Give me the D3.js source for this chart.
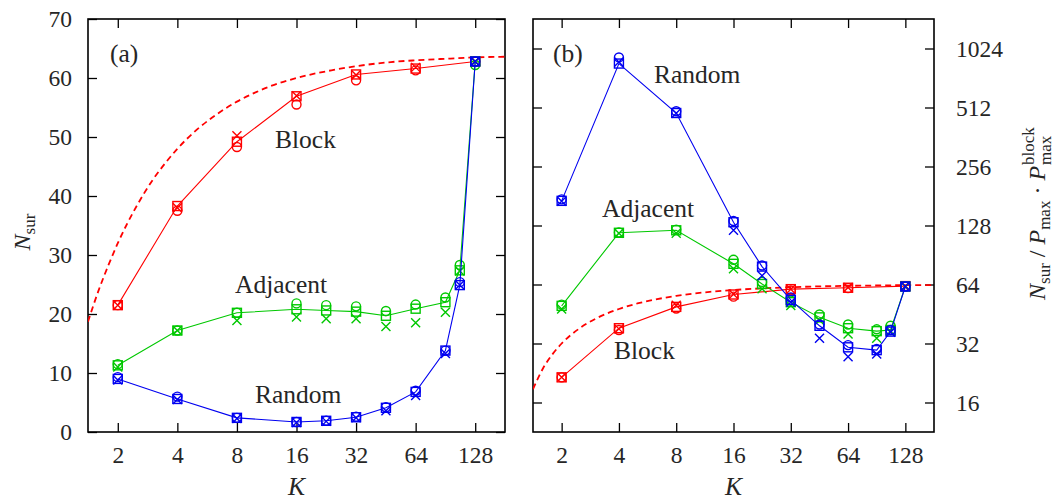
<!DOCTYPE html>
<html>
<head>
<meta charset="utf-8">
<script src="https://cdn.jsdelivr.net/npm/d3@7"></script>
<style>
  body { margin: 0; background: #fff; }
  svg text { font-family: "Liberation Serif", "DejaVu Serif", serif !important; fill: #262626; }
</style>
</head>
<body>
<script>
// DATA
const kBlock = [2, 4, 8, 16, 32, 64, 128];
const kAll = [2, 4, 8, 16, 22.6, 32, 45.3, 64, 90.5, 107, 128];

// panel (a): N_sur, three variants per scheme (square / circle / cross)
const blockSq  = [21.5, 38.3, 49.2, 56.9, 60.6, 61.6, 62.8];
const blockCi  = [21.5, 37.5, 48.3, 55.5, 59.6, 61.3, 62.8];
const blockX   = [21.5, 38.0, 50.2, 57.0, 60.5, 61.8, 62.8];

const adjSq    = [11.3, 17.2, 20.2, 20.8, 20.6, 20.4, 19.7, 20.9, 22.0, 27.4, 62.8];
const adjCi    = [11.5, 17.2, 20.2, 21.8, 21.5, 21.3, 20.5, 21.6, 22.8, 28.3, 62.2];
const adjX     = [11.0, 17.2, 18.9, 19.5, 19.2, 19.2, 17.9, 18.5, 20.3, 27.3, 62.8];

const randSq   = [9.0, 5.6, 2.4, 1.7, 1.9, 2.5, 4.1, 6.8, 13.8, 24.9, 62.8];
const randCi   = [9.3, 6.0, 2.4, 1.7, 1.9, 2.6, 4.2, 7.0, 13.8, 25.4, 62.8];
const randX    = [8.8, 5.5, 2.3, 1.6, 1.8, 2.4, 3.6, 6.2, 13.3, 24.9, 62.8];

// panel (b): N_sur / P_max * P_max^block
const adjSqB   = [49.8, 117.5, 121, 81.6, 64.4, 52, 43.5, 38.3, 37, 37.5, 62.5];
const adjCiB   = [50.5, 118, 122, 85.6, 66, 53, 45, 40, 37.8, 39.4, 62.5];
const adjXB    = [48, 117, 117, 77, 60.8, 50, 42, 35.8, 34, 37, 62.5];

const randSqB  = [171, 858, 480, 133, 79, 53.4, 39.4, 30.6, 29.6, 36.8, 62.5];
const randCiB  = [174, 922, 490, 135, 80, 55, 40, 31.4, 30, 37.5, 62.5];
const randXB   = [170, 875, 478, 121, 71, 52, 34, 27.4, 28.3, 36.5, 62.5];

// upper bound (dashed)
const kBound   = [1.414, 1.6, 1.8, 2, 2.5, 3, 3.5, 4, 5, 6, 8, 10, 12, 16, 24, 32, 48, 64, 96, 128, 181];
const bound    = [18.7, 24, 28.4, 32, 38.4, 42.7, 45.7, 48, 51.2, 53.3, 56, 57.6, 58.7, 60, 61.3, 62, 62.7, 63, 63.3, 63.5, 63.6];

const xTicks  = [2, 4, 8, 16, 32, 64, 128];
const yTicksA = [0, 10, 20, 30, 40, 50, 60, 70];
const yTicksB = [16, 32, 64, 128, 256, 512, 1024];

const RED = "#ff0000", GREEN = "#00c800", BLUE = "#0000f0";

// SVG
const svg = d3.select("body").append("svg")
  .attr("width", 1056).attr("height", 500);

const plotTop = 19, plotBottom = 432;
const xA = d3.scaleLog().base(2).domain([Math.SQRT2, 128 * Math.SQRT2]).range([88, 505]);
const yA = d3.scaleLinear().domain([0, 70]).range([plotBottom, plotTop]);
const xB = d3.scaleLog().base(2).domain([Math.SQRT2, 128 * Math.SQRT2]).range([533, 934]);
const yB = d3.scaleLog().base(2).domain([Math.pow(2, 3.5), Math.pow(2, 10.5)]).range([plotBottom, plotTop]);

const fs = "23.5px", fsNote = "25.5px";

function frame(x, y, yTicks, labelSide, id) {
  const [x0, x1] = x.range();
  const g = svg.append("g");

  g.append("g").attr("transform", `translate(0,${plotBottom})`)
    .call(d3.axisBottom(x).tickValues(xTicks).tickFormat(d3.format("d")).tickSizeInner(-9).tickSizeOuter(0).tickPadding(14))
    .call(a => a.select(".domain").remove())
    .call(a => a.selectAll("text").style("font-size", fs));
  g.append("g").attr("transform", `translate(0,${plotTop})`)
    .call(d3.axisTop(x).tickValues(xTicks).tickFormat("").tickSizeInner(-9).tickSizeOuter(0))
    .call(a => a.select(".domain").remove());

  const left = d3.axisLeft(y).tickValues(yTicks).tickSizeInner(-9).tickSizeOuter(0).tickPadding(16);
  const right = d3.axisRight(y).tickValues(yTicks).tickSizeInner(-9).tickSizeOuter(0).tickPadding(22);
  if (labelSide == "left") right.tickFormat(""); else left.tickFormat("");
  if (labelSide == "right") right.tickFormat(d3.format("d"));

  g.append("g").attr("transform", `translate(${x0},0)`).call(left)
    .call(a => a.select(".domain").remove())
    .call(a => a.selectAll("text").style("font-size", fs));
  g.append("g").attr("transform", `translate(${x1},0)`).call(right)
    .call(a => a.select(".domain").remove())
    .call(a => a.selectAll("text").style("font-size", fs));

  g.selectAll("g").attr("font-family", null);
  g.selectAll(".tick line").attr("stroke", "#000").attr("stroke-width", 1.3);
  g.selectAll(".tick text").attr("fill", "#262626");

  g.append("rect")
    .attr("x", x0).attr("y", plotTop).attr("width", x1 - x0).attr("height", plotBottom - plotTop)
    .attr("fill", "none").attr("stroke", "#000").attr("stroke-width", 1.6);

  svg.append("clipPath").attr("id", id)
    .append("rect").attr("x", x0).attr("y", plotTop).attr("width", x1 - x0).attr("height", plotBottom - plotTop);

  // K label
  svg.append("text")
    .attr("x", (x0 + x1) / 2).attr("y", 495)
    .attr("text-anchor", "middle")
    .style("font-size", fsNote).style("font-style", "italic")
    .text("K");
}

frame(xA, yA, yTicksA, "left", "clipA");
frame(xB, yB, yTicksB, "right", "clipB");

function series(x, y, ks, sq, ci, cr, color, clip) {
  const g = svg.append("g").attr("clip-path", `url(#${clip})`);
  const pts = ks.map((k, i) => ({ k: k, sq: sq[i], ci: ci[i], cr: cr[i] }));

  g.append("path").datum(pts)
    .attr("fill", "none").attr("stroke", color).attr("stroke-width", 1.1)
    .attr("d", d3.line().x(d => x(d.k)).y(d => y(d.sq)));

  g.selectAll("rect.sq").data(pts).join("rect")
    .attr("class", "sq")
    .attr("x", d => x(d.k) - 4.5).attr("y", d => y(d.sq) - 4.5)
    .attr("width", 9).attr("height", 9)
    .attr("fill", "none").attr("stroke", color).attr("stroke-width", 1.4);

  g.selectAll("circle").data(pts).join("circle")
    .attr("cx", d => x(d.k)).attr("cy", d => y(d.ci)).attr("r", 4.5)
    .attr("fill", "none").attr("stroke", color).attr("stroke-width", 1.4);

  g.selectAll("path.cr").data(pts).join("path")
    .attr("class", "cr")
    .attr("d", d => {
      const cx = x(d.k), cy = y(d.cr), s = 4.5;
      return `M${cx - s},${cy - s}L${cx + s},${cy + s}M${cx - s},${cy + s}L${cx + s},${cy - s}`;
    })
    .attr("fill", "none").attr("stroke", color).attr("stroke-width", 1.4);
}

function boundCurve(x, y, clip) {
  svg.append("path")
    .datum(kBound.map((k, i) => [k, bound[i]]))
    .attr("clip-path", `url(#${clip})`)
    .attr("fill", "none").attr("stroke", RED).attr("stroke-width", 1.8)
    .attr("stroke-dasharray", "6,4")
    .attr("d", d3.line().curve(d3.curveMonotoneX).x(d => x(d[0])).y(d => y(d[1])));
}

// PANEL (a)
boundCurve(xA, yA, "clipA");
series(xA, yA, kBlock, blockSq, blockCi, blockX, RED, "clipA");
series(xA, yA, kAll, adjSq, adjCi, adjX, GREEN, "clipA");
series(xA, yA, kAll, randSq, randCi, randX, BLUE, "clipA");

// PANEL (b)
boundCurve(xB, yB, "clipB");
series(xB, yB, kBlock, blockSq, blockCi, blockX, RED, "clipB");
series(xB, yB, kAll, adjSqB, adjCiB, adjXB, GREEN, "clipB");
series(xB, yB, kAll, randSqB, randCiB, randXB, BLUE, "clipB");

// ANNOTATIONS
const notes = [
  ["(a)", 110, 62], ["Block", 275, 148], ["Adjacent", 235, 293], ["Random", 255, 403],
  ["(b)", 553, 62], ["Random", 654, 83], ["Adjacent", 602, 217], ["Block", 614, 359]
];
svg.selectAll("text.note").data(notes).join("text")
  .attr("class", "note")
  .attr("x", d => d[1])
  .attr("y", d => d[2])
  .style("font-size", fsNote)
  .text(d => d[0]);

// Y LABEL (a)
const yl = svg.append("text")
  .attr("transform", "translate(30,232) rotate(-90)")
  .attr("text-anchor", "middle")
  .style("font-size", "24px");
yl.append("tspan").style("font-style", "italic").text("N");
yl.append("tspan").attr("dy", 5).style("font-size", "17px").text("sur");

// Y LABEL (b)
const gr = svg.append("g").attr("transform", "translate(1045,300) rotate(-90)");
const rl = gr.append("text").style("font-size", "24px");
rl.append("tspan").style("font-style", "italic").text("N");
rl.append("tspan").attr("dy", 5).style("font-size", "17px").text("sur");
rl.append("tspan").attr("dy", -5).text(" / ");
rl.append("tspan").style("font-style", "italic").text("P");
rl.append("tspan").attr("dy", 5).style("font-size", "17px").text("max");
rl.append("tspan").attr("dy", -5).text(" · ");
rl.append("tspan").style("font-style", "italic").text("P");
const w0 = rl.node().getComputedTextLength();
gr.append("text").attr("x", w0 + 1).attr("y", -11).style("font-size", "17px").text("block");
gr.append("text").attr("x", w0 + 1).attr("y", 6).style("font-size", "17px").text("max");
</script>
</body>
</html>
